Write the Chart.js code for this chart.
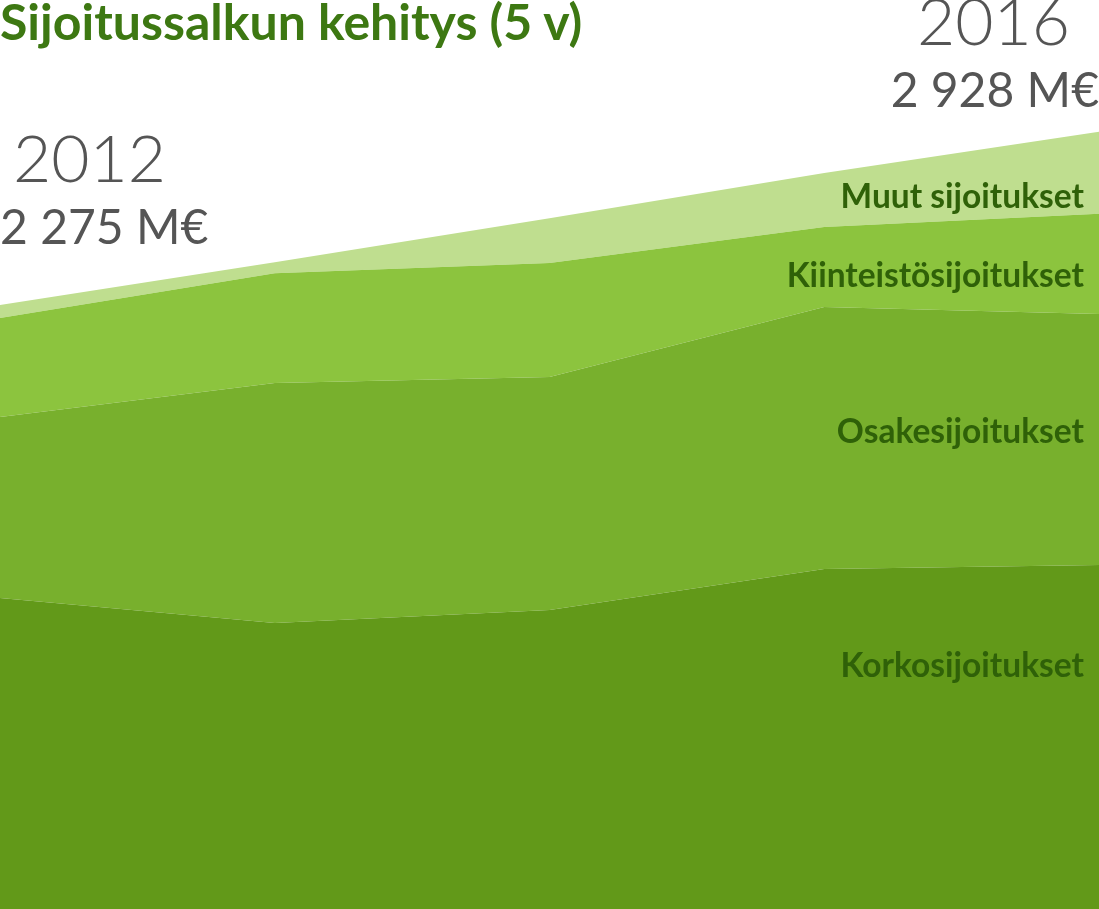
<!DOCTYPE html>
<html>
<head>
<meta charset="utf-8">
<script src="https://cdn.jsdelivr.net/npm/chart.js@4/dist/chart.umd.min.js"></script>
<style>
  html, body { margin: 0; padding: 0; background: #fff; overflow: hidden; }
  #wrap { position: relative; width: 1099px; height: 909px; }
  #chart { position: absolute; left: 0; top: 0; }
  .txt { position: absolute; font-family: Lato, "Open Sans", sans-serif; line-height: 1; white-space: nowrap; }
  .title { left: 0; top: -4px; font-size: 50px; font-weight: 700; color: #3d7812; }
  .year { font-size: 66px; font-weight: 300; color: #555; }
  .total { font-size: 48px; font-weight: 400; color: #555; }
  .lbl { right: 15px; font-size: 33.5px; font-weight: 700; color: #2f6108; }
</style>
</head>
<body>
<div id="wrap">
  <canvas id="chart" width="1099" height="909"></canvas>
  <div class="txt title">Sijoitussalkun kehitys (5 v)</div>
  <div class="txt year" style="left:13px; top:124px;">2012</div>
  <div class="txt total" style="left:0; top:202px;">2 275 M€</div>
  <div class="txt year" style="right:29px; top:-13px;">2016</div>
  <div class="txt total" style="right:0; top:65px;">2 928 M€</div>
  <div class="txt lbl" style="top:179px;">Muut sijoitukset</div>
  <div class="txt lbl" style="top:258px;">Kiinteistösijoitukset</div>
  <div class="txt lbl" style="top:414px;">Osakesijoitukset</div>
  <div class="txt lbl" style="top:648px;">Korkosijoitukset</div>
</div>
<script>
// ============ DATA (M€) ============ //
const years = ["2012", "2013", "2014", "2015", "2016"];
const korko = [1171, 1077, 1126, 1281, 1296];
const osake = [682, 904, 878, 987, 945];
const kiinteisto = [373, 414, 429, 301, 378];
const muut = [49, 41, 169, 203, 309];

const seriesNames = ["Korkosijoitukset", "Osakesijoitukset", "Kiinteistösijoitukset", "Muut sijoitukset"];
const seriesColors = ["#629919", "#78b02d", "#8cc43e", "#bfde8f"];
const seriesData = [korko, osake, kiinteisto, muut];

const datasets = seriesData.map((d, i) => ({
  label: seriesNames[i],
  data: d,
  backgroundColor: seriesColors[i],
  borderWidth: 0,
  pointRadius: 0,
  tension: 0,
  fill: i === 0 ? "origin" : "-1",
}));

new Chart(document.getElementById("chart"), {
  type: "line",
  data: { labels: years, datasets: datasets },
  options: {
    responsive: false,
    animation: false,
    layout: { padding: 0 },
    plugins: { legend: { display: false }, tooltip: { enabled: false } },
    scales: {
      x: { display: false, offset: false },
      y: { display: false, stacked: true, min: 0, max: 3424 },
    },
  },
});
</script>
</body>
</html>
